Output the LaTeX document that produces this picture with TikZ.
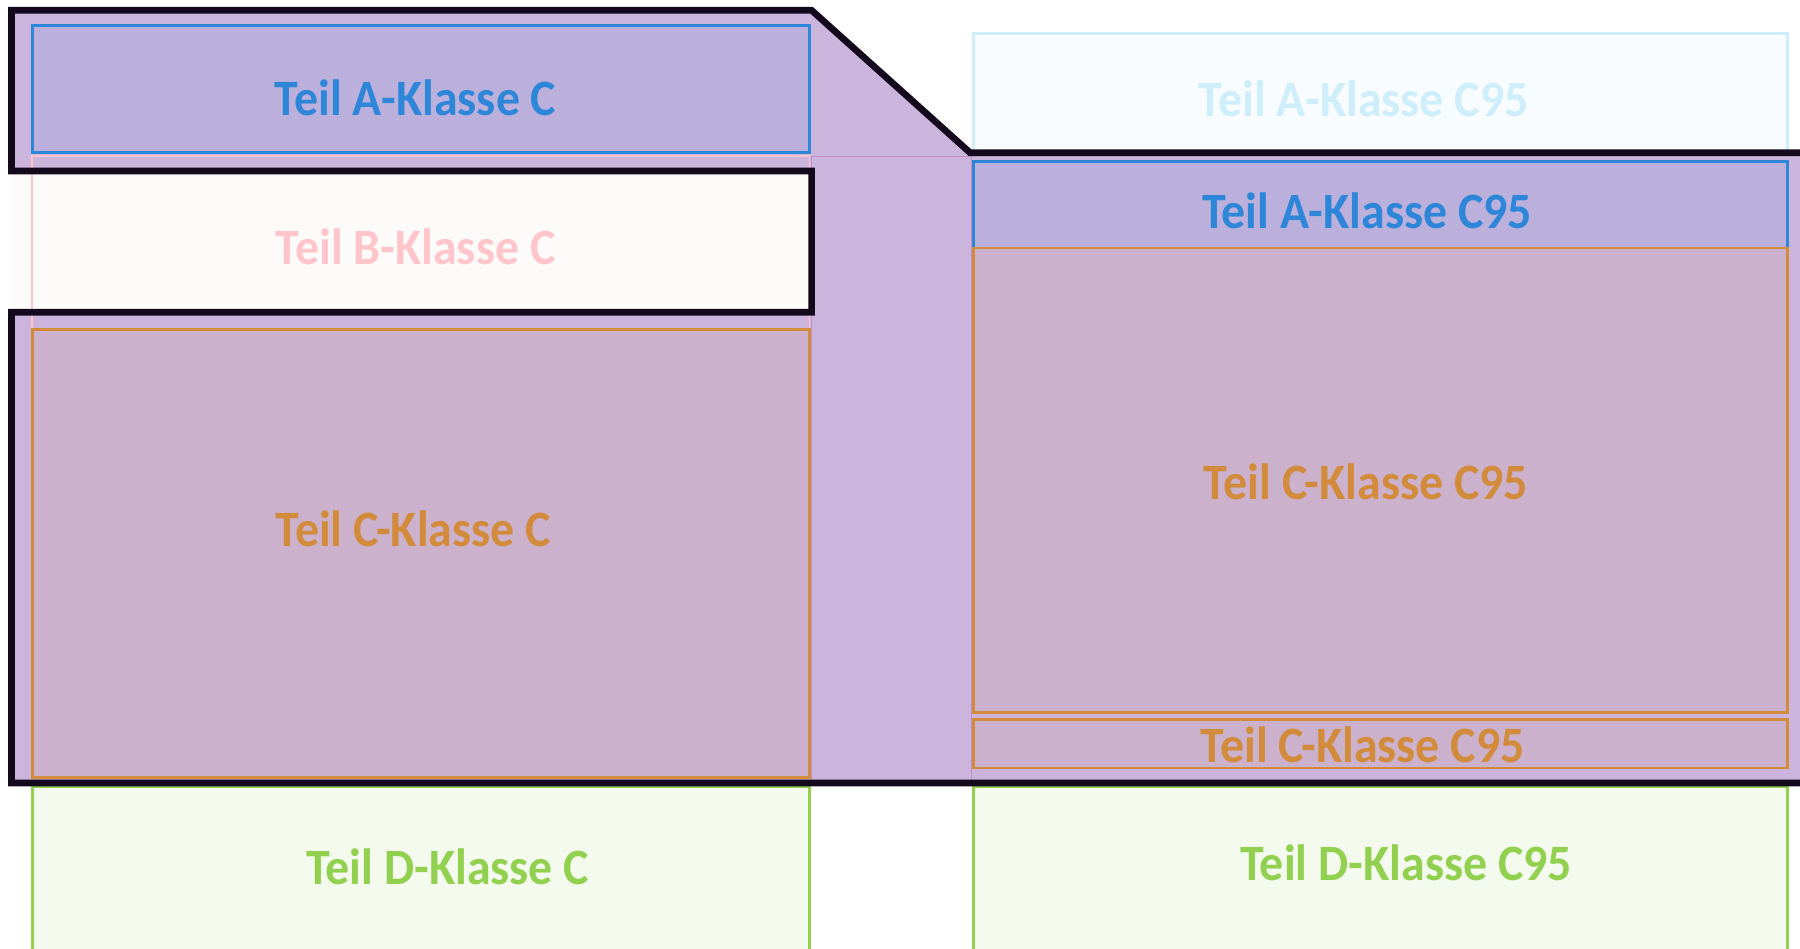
\documentclass[tikz,border=0pt]{standalone}
\usepackage{fontspec}
\setmainfont{Carlito}
\usepackage{graphicx}
\usepackage{tikz}

\definecolor{lila}{HTML}{CBB5DC}
\definecolor{fillA}{HTML}{BBB0DB}
\definecolor{fillB}{HTML}{FDFBFA}
\definecolor{fillC}{HTML}{CBB1CB}
\definecolor{blauA}{HTML}{2E86D9}
\definecolor{rosaB}{HTML}{FFC5CB}
\definecolor{orangeC}{HTML}{D28B3A}
\definecolor{gruenD}{HTML}{92D050}
\definecolor{cyanA}{HTML}{CDEEFA}
\definecolor{umriss}{HTML}{14081C}

\newcommand{\teil}[1]{\scalebox{0.94}[1]{#1}}

\begin{document}
\begin{tikzpicture}[x={(0.01148cm,0)}, y={(0,-0.01148cm)}]
    \tikzstyle{boxA}=[draw=blauA,fill=fillA,line width=0.8pt]
    \tikzstyle{boxB}=[draw=rosaB,line width=0.4pt]
    \tikzstyle{boxC}=[draw=orangeC,fill=fillC,line width=0.8pt]
    \tikzstyle{boxD}=[draw=gruenD,fill=gruenD!10,line width=0.8pt]
    \tikzstyle{boxfade}=[draw=cyanA,fill=cyanA!15,line width=0.8pt]
    \tikzstyle{label}=[font=\bfseries\fontsize{14.5}{17}\selectfont,inner sep=0pt]
    \tikzstyle{outline}=[draw=umriss,line width=1.9pt,line join=miter]
    \tikzstyle{thin}=[draw=violet!45,line width=0.3pt]

    \clip (0,0) rectangle (1568,826);
    \fill[white] (0,0) rectangle (1568,826);

    % Klasse C area
    \fill[lila] (10,9) -- (707,9) -- (845,133) -- (1568,133) -- (1568,682) -- (10,682) -- cycle;
    \fill[fillB] (10,149) rectangle (707,272);

    % left column
    \draw[boxA] (28,22) rectangle (705,133);
    \draw[boxB] (28,136) rectangle (705,287);
    \fill[fillB] (30,151) rectangle (705,270);
    \draw[boxC] (28,287) rectangle (705,677);
    \draw[boxD] (28,685) rectangle (705,840);

    % right column
    \draw[boxfade] (848,29) rectangle (1557,133);
    \draw[boxA] (848,141) rectangle (1557,216);
    \draw[boxC] (848,216) rectangle (1557,621);
    \draw[boxC] (848,627) rectangle (1557,669);
    \draw[boxD] (848,685) rectangle (1557,840);

    \path[thin] (707,136) -- (845,136);
    \path[thin] (707,136) -- (707,682);
    \path[thin] (846,133) -- (846,682);

    \path[outline] (1572,133) -- (845,133) -- (707,9) -- (10,9) -- (10,149) -- (707,149)
        -- (707,272) -- (10,272) -- (10,682) -- (1572,682);

    \node[label,text=blauA] (aC) at (362,85) {\teil{Teil A-Klasse C}};
    \node[label,text=rosaB] (bC) at (362,215) {\teil{Teil B-Klasse C}};
    \node[label,text=orangeC] (cC) at (360,461) {\teil{Teil C-Klasse C}};
    \node[label,text=gruenD] (dC) at (390,755) {\teil{Teil D-Klasse C}};

    \node[label,text=cyanA] (aCfade) at (1188,86) {\teil{Teil A-Klasse C95}};
    \node[label,text=blauA] (aCnn) at (1191,184) {\teil{Teil A-Klasse C95}};
    \node[label,text=orangeC] (cCnn) at (1190,420) {\teil{Teil C-Klasse C95}};
    \node[label,text=orangeC] (cCsm) at (1187,649) {\teil{Teil C-Klasse C95}};
    \node[label,text=gruenD] (dCnn) at (1225,752) {\teil{Teil D-Klasse C95}};
\end{tikzpicture}
\end{document}
